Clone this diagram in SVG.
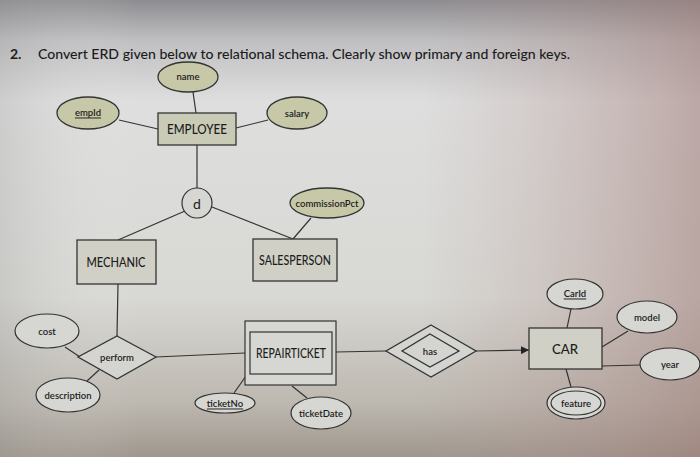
<svg xmlns="http://www.w3.org/2000/svg" width="700" height="457" viewBox="0 0 700 457">
<defs>
<linearGradient id="bgv" x1="0" y1="0" x2="0" y2="1">
<stop offset="0" stop-color="#8d8c90"/>
<stop offset="0.09" stop-color="#c0c0c2"/>
<stop offset="0.22" stop-color="#dedede"/>
<stop offset="0.65" stop-color="#d8d8d4"/>
<stop offset="0.88" stop-color="#bdb8b0"/>
<stop offset="1" stop-color="#9f978e"/>
</linearGradient>
<linearGradient id="bgh" x1="0" y1="0" x2="1" y2="0">
<stop offset="0" stop-color="#9a9a9a" stop-opacity="0.25"/>
<stop offset="0.2" stop-color="#ffffff" stop-opacity="0"/>
<stop offset="0.6" stop-color="#b89c98" stop-opacity="0"/>
<stop offset="1" stop-color="#a07c78" stop-opacity="0.55"/>
</linearGradient>
<marker id="arr" viewBox="0 0 10 10" refX="10" refY="5" markerWidth="8" markerHeight="8" orient="auto" markerUnits="userSpaceOnUse">
<path d="M0,0 L10,5 L0,10 z" fill="#222"/>
</marker>
<style>
.ent{fill:#d0d0c6;stroke:#333;stroke-width:1.3}
.entg{fill:#c9cbb6;stroke:#333;stroke-width:1.3}
.attg{fill:#c6c8a8;stroke:#333;stroke-width:1.3}
.att{fill:#d6d6d2;stroke:#333;stroke-width:1.2}
.rel{fill:#d4d4d0;stroke:#333;stroke-width:1.3}
.ln{stroke:#333;stroke-width:1.2;fill:none}
text{font-family:Lato,"Liberation Sans",sans-serif;fill:#1c1c1c;text-anchor:middle;dominant-baseline:central}
.big{font-size:13.5px;font-weight:500}
.sm{font-size:9.5px;font-weight:600}
.u{text-decoration:underline}
</style>
</defs>
<rect width="700" height="457" fill="url(#bgv)"/>
<rect width="700" height="457" fill="url(#bgh)"/>
<text x="10" y="53" style="text-anchor:start;font-size:14px;font-weight:500"><tspan font-weight="bold">2.</tspan><tspan x="38" textLength="532" lengthAdjust="spacingAndGlyphs">Convert ERD given below to relational schema. Clearly show primary and foreign keys.</tspan></text>
<g id="connectors">
<line class="ln" x1="193" y1="92" x2="196" y2="113"/>
<line class="ln" x1="119" y1="120" x2="158" y2="129"/>
<line class="ln" x1="268" y1="120" x2="236" y2="128"/>
<line class="ln" x1="197" y1="145" x2="197" y2="188"/>
<line class="ln" x1="185" y1="211" x2="118" y2="240"/>
<line class="ln" x1="212" y1="207" x2="293" y2="239"/>
<line class="ln" x1="311" y1="218" x2="293" y2="239"/>
<line class="ln" x1="118" y1="284" x2="117" y2="336"/>
<line class="ln" x1="65" y1="347" x2="80" y2="357"/>
<line class="ln" x1="87" y1="381" x2="99" y2="370"/>
<line class="ln" x1="156" y1="357" x2="245" y2="353"/>
<line class="ln" x1="336" y1="352" x2="386" y2="351"/>
<line class="ln" x1="234" y1="393" x2="246" y2="376"/>
<line class="ln" x1="292" y1="386" x2="307" y2="398"/>
<line class="ln" x1="476" y1="351" x2="529" y2="350" marker-end="url(#arr)"/>
<line class="ln" x1="571" y1="309" x2="567" y2="328"/>
<line class="ln" x1="602" y1="347" x2="628" y2="331"/>
<line class="ln" x1="602" y1="366" x2="640" y2="365"/>
<line class="ln" x1="566" y1="369" x2="571" y2="387"/>
</g>
<g id="name"><ellipse class="attg" cx="188" cy="77" rx="30" ry="15"/><text class="sm" x="188" y="76">name</text></g>
<g id="empId"><ellipse class="attg" cx="88" cy="113" rx="31" ry="16"/><text class="sm u" x="88" y="112">empId</text></g>
<g id="salary"><ellipse class="attg" cx="297" cy="113" rx="30" ry="16"/><text class="sm" x="297" y="113">salary</text></g>
<g id="employee"><rect class="entg" x="158" y="113" width="78" height="32"/><text class="big" x="197" y="129" textLength="60" lengthAdjust="spacingAndGlyphs">EMPLOYEE</text></g>
<g id="d"><circle class="att" cx="197" cy="203" r="15"/><text x="197" y="203" style="font-size:14px">d</text></g>
<g id="commissionPct"><ellipse class="attg" cx="327" cy="203" rx="37" ry="15"/><text class="sm" x="327" y="203">commissionPct</text></g>
<g id="mechanic"><rect class="ent" x="77" y="240" width="79" height="44"/><text class="big" x="116" y="262" textLength="59" lengthAdjust="spacingAndGlyphs">MECHANIC</text></g>
<g id="salesperson"><rect class="ent" x="253" y="239" width="84" height="42"/><text class="big" x="295" y="260" textLength="72" lengthAdjust="spacingAndGlyphs">SALESPERSON</text></g>
<g id="perform"><polygon class="rel" points="117,336 156,357 117,379 78,357"/><text class="sm" x="117" y="357">perform</text></g>
<g id="cost"><ellipse class="att" cx="47" cy="331" rx="32" ry="17"/><text class="sm" x="47" y="331">cost</text></g>
<g id="description"><ellipse class="att" cx="68" cy="395" rx="32" ry="17"/><text class="sm" x="68" y="395">description</text></g>
<g id="repairticket"><rect class="att" x="245" y="321" width="91" height="64"/><rect class="att" x="250" y="332" width="82" height="42"/><text class="big" x="291" y="353" textLength="70" lengthAdjust="spacingAndGlyphs">REPAIRTICKET</text></g>
<g id="ticketNo"><ellipse class="att" cx="225" cy="403" rx="30" ry="10"/><text class="sm u" x="225" y="403">ticketNo</text></g>
<g id="ticketDate"><ellipse class="att" cx="321" cy="413" rx="30" ry="16"/><text class="sm" x="321" y="413">ticketDate</text></g>
<g id="has"><polygon class="rel" points="431,325 476,351 431,377 386,351"/><polygon class="rel" points="430,334 459,351 430,367 402,351"/><text class="sm" x="430" y="351">has</text></g>
<g id="car"><rect class="ent" x="529" y="328" width="73" height="41"/><text class="big" x="565" y="349" textLength="26" lengthAdjust="spacingAndGlyphs">CAR</text></g>
<g id="carId"><ellipse class="att" cx="575" cy="294" rx="28" ry="15"/><text class="sm u" x="575" y="293">CarId</text></g>
<g id="model"><ellipse class="att" cx="647" cy="317" rx="30" ry="16"/><text class="sm" x="647" y="317">model</text></g>
<g id="year"><ellipse class="att" cx="670" cy="364" rx="30" ry="16"/><text class="sm" x="670" y="364">year</text></g>
<g id="feature"><ellipse class="att" cx="576" cy="403" rx="29" ry="16"/><ellipse class="att" cx="576" cy="403" rx="25" ry="12"/><text class="sm" x="576" y="403">feature</text></g>
</svg>
